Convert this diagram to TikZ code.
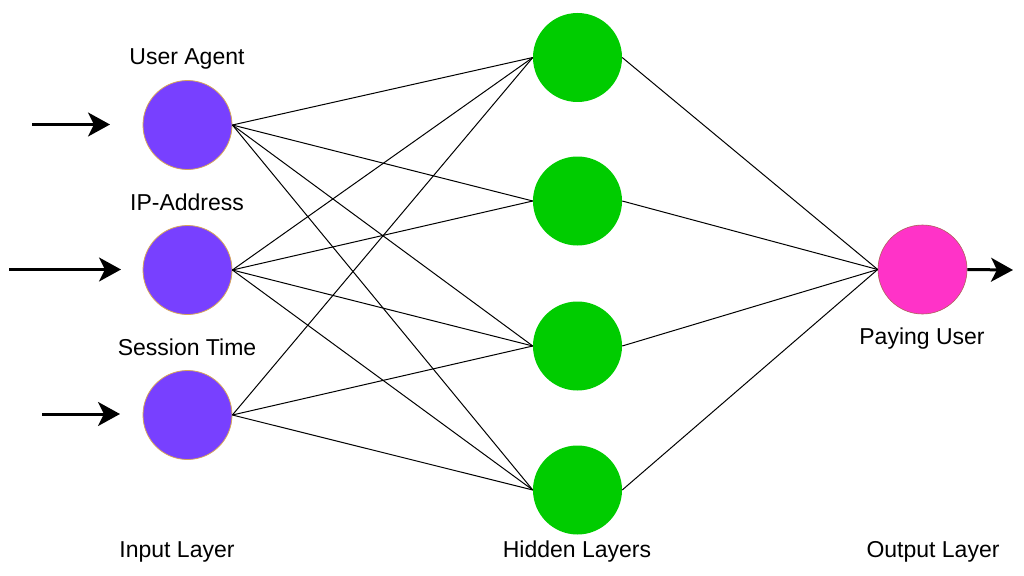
\documentclass[tikz,border=0pt]{standalone}
\usepackage{fontspec}
\setmainfont{Liberation Sans}
\usetikzlibrary{arrows.meta}
\definecolor{inpurple}{HTML}{7840FF}
\definecolor{inborder}{HTML}{D6A45A}
\definecolor{hidgreen}{HTML}{00CC00}
\definecolor{outpink}{HTML}{FF33C8}
\definecolor{outborder}{HTML}{B0605A}
\begin{document}
\begin{tikzpicture}[x=1pt,y=-1pt,
  neuron/.style={circle,minimum size=89pt,inner sep=0pt},
  inneuron/.style={neuron,fill=inpurple,draw=inborder,line width=0.8pt},
  hidneuron/.style={neuron,fill=hidgreen},
  outneuron/.style={neuron,fill=outpink,draw=outborder,line width=0.6pt},
  lbl/.style={font=\fontsize{23}{27}\selectfont,anchor=base,inner sep=0pt},
  conn/.style={line width=1pt,black},
  inarrow/.style={line width=3pt,-{Stealth[length=22pt,width=24pt,inset=6pt]}}
]
\useasboundingbox (0,0) rectangle (1024,575);
\fill[white] (0,0) rectangle (1024,575);

\node[inneuron] (i1) at (187.5,125) {};
\node[inneuron] (i2) at (187.5,270) {};
\node[inneuron] (i3) at (187.5,415) {};
\node[hidneuron] (h1) at (577.5,57.5) {};
\node[hidneuron] (h2) at (577.5,201) {};
\node[hidneuron] (h3) at (577.5,346) {};
\node[hidneuron] (h4) at (577.5,490) {};
\node[outneuron] (o) at (922.5,269.5) {};

\foreach \h in {h1,h2,h3,h4} {
  \draw[conn] (i1.east) -- (\h.west);
  \draw[conn] (i2.east) -- (\h.west);
}
\foreach \h in {h1,h3,h4} {
  \draw[conn] (i3.east) -- (\h.west);
}
\foreach \h in {h1,h2,h3,h4} {
  \draw[conn] (\h.east) -- (o.west);
}

\coordinate (a1s) at (32,124.5);
\coordinate (a1e) at (110,124.5);
\coordinate (a2s) at (9,269.5);
\coordinate (a2e) at (121,269.5);
\coordinate (a3s) at (42,414);
\coordinate (a3e) at (120,414);
\coordinate (aoe) at (1013,270);
\draw[inarrow] (a1s) -- (a1e);
\draw[inarrow] (a2s) -- (a2e);
\draw[inarrow] (a3s) -- (a3e);
\draw[inarrow] (o.east) -- (aoe);

\node[lbl] (l1) at (187,65) {User Agent};
\node[lbl] (l2) at (187,210) {IP-Address};
\node[lbl] (l3) at (187,355) {Session Time};
\node[lbl] (lo) at (922,344) {Paying User};
\node[lbl] (li) at (177,557) {Input Layer};
\node[lbl] (lh) at (577,557) {Hidden Layers};
\node[lbl] (lout) at (933,557) {Output Layer};
\end{tikzpicture}
\end{document}
